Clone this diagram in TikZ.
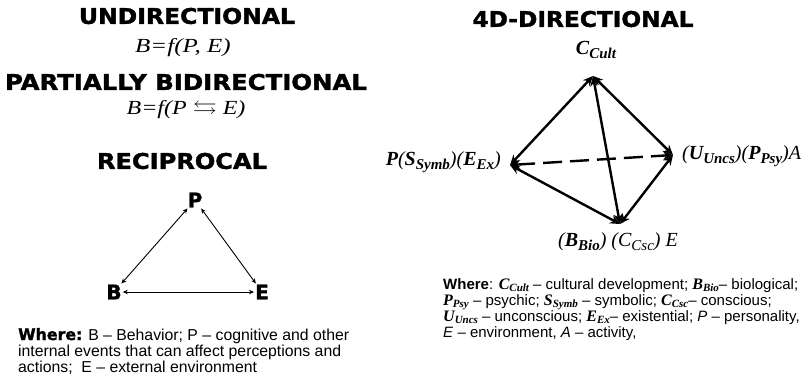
\documentclass[tikz,border=0pt]{standalone}
\usepackage{fontspec}
\usepackage{amssymb}
\usepackage{graphicx}
\setmainfont{Liberation Sans}
\newfontfamily\heavy{DejaVu Sans Bold}[FakeBold=1.6]
\newfontfamily\cam{Liberation Serif}
\usetikzlibrary{arrows.meta}
\newcommand\ttl[2]{\resizebox{#1}{16pt}{\heavy #2}}
\newcommand\dsym[2]{{\cam\bfseries\itshape\fontsize{20}{20}\selectfont #1\raisebox{-4pt}{\fontsize{15}{15}\selectfont #2}}}
\newcommand\dsymr[2]{{\cam\itshape\fontsize{20}{20}\selectfont #1\raisebox{-4pt}{\fontsize{15}{15}\selectfont #2}}}
\newcommand\tsym[2]{{\cam\bfseries\itshape\fontsize{16}{16}\selectfont #1\raisebox{-2.5pt}{\fontsize{11}{11}\selectfont #2}}}
\begin{document}
\begin{tikzpicture}[x=1pt,y=-1pt,
  title/.style={inner sep=0pt},
  formula/.style={inner sep=0pt,font=\cam\itshape\fontsize{20}{20}\selectfont},
  letter/.style={inner sep=1pt,font=\heavy\fontsize{20}{20}\selectfont},
  thinarrow/.style={line width=0.9pt,{Stealth[length=5pt,width=4.5pt]}-{Stealth[length=5pt,width=4.5pt]}},
  thickarrow/.style={line width=2.4pt,{Stealth[length=10pt,width=9pt]}-{Stealth[length=10pt,width=9pt]}},
  lbl/.style={inner sep=0pt,font=\cam\itshape\fontsize{20}{20}\selectfont},
  desc/.style={inner sep=0pt,anchor=base west,font=\fontsize{15.8}{16}\selectfont},
  desctwo/.style={inner sep=0pt,anchor=base west,font=\fontsize{15}{16}\selectfont}]
\useasboundingbox (0,0) rectangle (804,384);

% left column titles
\node[title] (t1) at (187,16) {\ttl{216pt}{UNDIRECTIONAL}};
\node[formula] (f1) at (183,48) {\scalebox{1.25}[1]{B=f(P, E)}};
\node[title] (t2) at (186,82) {\ttl{362pt}{PARTIALLY BIDIRECTIONAL}};
\node[formula] (f2) at (186,110) {\scalebox{1.2}[1]{B=f(P $\leftrightarrows$ E)}};
\node[title] (t3) at (182,161) {\ttl{170pt}{RECIPROCAL}};

% reciprocal triangle
\node[letter] (P) at (195,200) {P};
\node[letter] (B) at (114,292) {B};
\node[letter] (E) at (262,292) {E};
\draw[thinarrow] (P) -- (B);
\draw[thinarrow] (P) -- (E);
\draw[thinarrow] (B) -- (E);

% left description
\node[desc] (wl1) at (18,340) {{\heavy Where:} B – Behavior; P – cognitive and other};
\node[desc] (wl2) at (18,356) {internal events that can affect perceptions and};
\node[desc] (wl3) at (18,372) {actions;\ \ E – external environment};

% right column
\node[title] (t4) at (583,19) {\ttl{221pt}{4D-DIRECTIONAL}};

\coordinate (T) at (593,76);
\coordinate (L) at (510,165);
\coordinate (R) at (673,155);
\coordinate (Bt) at (620,224);

\node[lbl] (lt) at (596,50) {\dsym{C}{Cult}};
\node[lbl,anchor=east] (ll) at (501,162) {\textbf{P}(\dsym{S}{Symb})(\dsym{E}{Ex})};
\node[lbl,anchor=west] (lr) at (682,156) {(\dsym{U}{Uncs})(\dsym{P}{Psy})A};
\node[lbl] (lb) at (618,242) {(\dsym{B}{Bio}) (\dsymr{C}{Csc}) E};

\draw[thickarrow] (T) -- (L);
\draw[thickarrow] (T) -- (R);
\draw[thickarrow] (T) -- (Bt);
\draw[thickarrow] (L) -- (Bt);
\draw[thickarrow] (R) -- (Bt);
\draw[thickarrow,dash pattern=on 19pt off 8pt] (L) -- (R);

% right description
\node[desctwo] (wr1) at (443,289) {\textbf{Where}: \tsym{C}{Cult} – cultural development; \tsym{B}{Bio}– biological;};
\node[desctwo] (wr2) at (443,305) {\tsym{P}{Psy} – psychic; \tsym{S}{Symb} – symbolic; \tsym{C}{Csc}– conscious;};
\node[desctwo] (wr3) at (443,321) {\tsym{U}{Uncs} – unconscious; \tsym{E}{Ex}– existential; \textit{P} – personality,};
\node[desctwo] (wr4) at (443,337) {\textit{E} – environment, \textit{A} – activity,};
\end{tikzpicture}
\end{document}
